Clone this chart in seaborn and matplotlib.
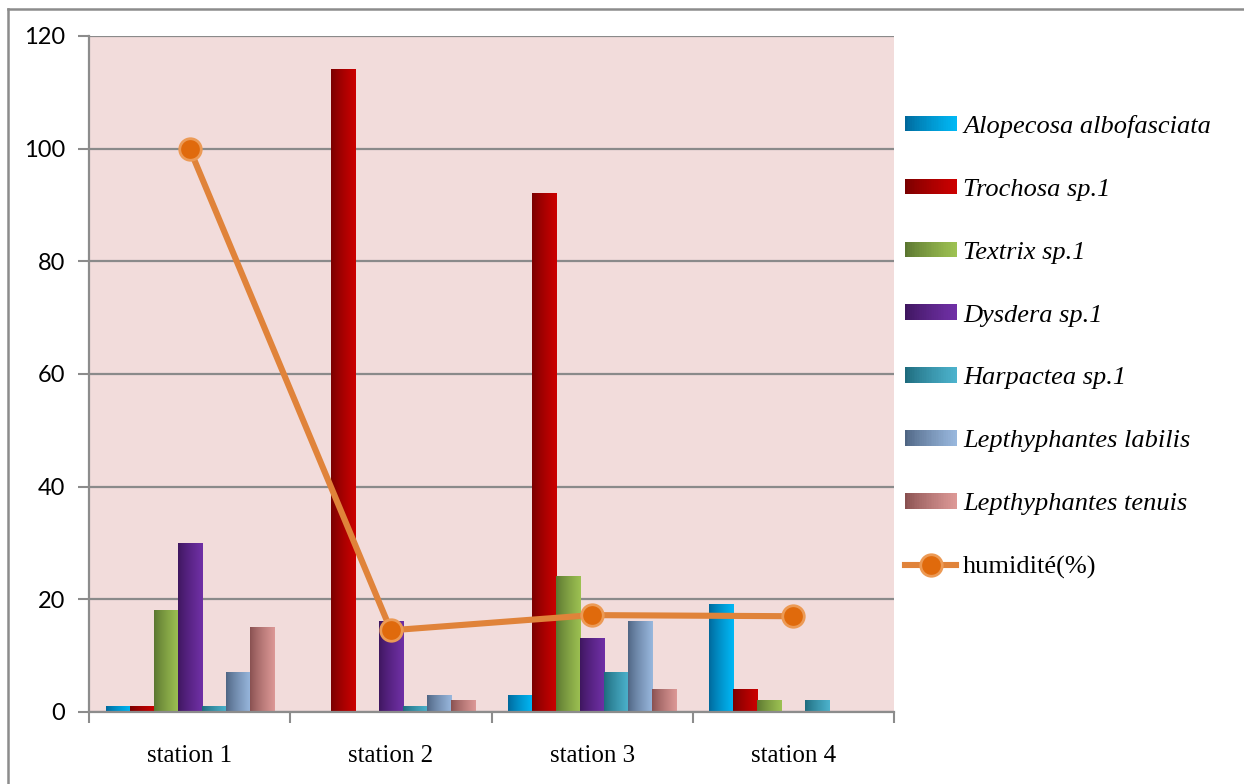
import numpy as np
import pandas as pd
import matplotlib
matplotlib.use("Agg")
import matplotlib.pyplot as plt
import seaborn as sns
from matplotlib.colors import LinearSegmentedColormap, to_rgb
from matplotlib.legend_handler import HandlerBase
from matplotlib.patches import Rectangle
from matplotlib.lines import Line2D

# ---- data -------------------------------------------------------------
stations = ["station 1", "station 2", "station 3", "station 4"]
species = ["Alopecosa albofasciata", "Trochosa sp.1", "Textrix sp.1",
           "Dysdera sp.1", "Harpactea sp.1", "Lepthyphantes labilis",
           "Lepthyphantes tenuis"]
alopecosa = [1, 0, 3, 19]
trochosa = [1, 114, 92, 4]
textrix = [18, 0, 24, 2]
dysdera = [30, 16, 13, 0]
harpactea = [1, 1, 7, 2]
lep_labilis = [7, 3, 16, 0]
lep_tenuis = [15, 2, 4, 0]
humidite = [100, 14.5, 17.2, 17]
y_ticks = [0, 20, 40, 60, 80, 100, 120]

counts = [alopecosa, trochosa, textrix, dysdera, harpactea, lep_labilis, lep_tenuis]
df = pd.DataFrame({
    "station": [s for _ in species for s in stations],
    "espece": [sp for sp in species for _ in stations],
    "effectif": [v for vals in counts for v in vals],
})

# dark -> light shading for each species
shades = [
    ("#00679A", "#00B8F5"),
    ("#780000", "#CC0000"),
    ("#5A7530", "#9DC152"),
    ("#3E165E", "#7030A6"),
    ("#1E6A7C", "#4CB2CC"),
    ("#4E6482", "#98B7DD"),
    ("#885050", "#DC9896"),
]
flat = [b for _, b in shades]

W, H, DPI = 1244, 784, 100
fig = plt.figure(figsize=(W / DPI, H / DPI), dpi=DPI)
ax = fig.add_axes([89 / W, 1 - 712 / H, (894 - 89) / W, (712 - 36) / H])
ax.set_facecolor("#F2DCDB")

sns.barplot(data=df, x="station", y="effectif", hue="espece",
            order=stations, hue_order=species, palette=flat,
            width=0.835, gap=0, ax=ax, legend=False, zorder=3)


def gradient_cmap(dark, light):
    d, l = np.array(to_rgb(dark)), np.array(to_rgb(light))
    t = np.linspace(0, 1, 64) ** 0.8
    return LinearSegmentedColormap.from_list("g", [d + (l - d) * v for v in t])


grad = np.linspace(0, 1, 64).reshape(1, -1)
for cont, (dark, light) in zip(ax.containers, shades):
    cmap = gradient_cmap(dark, light)
    for bar in cont:
        h = bar.get_height()
        if h <= 0:
            continue
        x0, w = bar.get_x(), bar.get_width()
        ax.imshow(grad, cmap=cmap, extent=(x0, x0 + w, 0, h),
                  aspect="auto", origin="lower", zorder=4,
                  interpolation="bilinear")

# humidity line
xs = np.arange(len(stations))
sns.lineplot(x=xs, y=humidite, ax=ax, color="#E0833A", linewidth=4.4,
             marker="o", markersize=15.5, markerfacecolor="#E06A0C",
             markeredgecolor="#EC9A55", markeredgewidth=2, zorder=6,
             sort=False)

ax.set_xlim(-0.5, len(stations) - 0.5)
ax.set_ylim(0, 120)
ax.set_yticks(y_ticks)
ax.set_xticks(xs)
ax.set_xticks(np.arange(-0.5, len(stations), 1.0), minor=True)
ax.set_xticklabels(stations, fontsize=18, family="Liberation Serif")
ax.set_yticklabels([str(v) for v in y_ticks], fontsize=17, family="Lato")
ax.tick_params(axis="x", which="major", length=0, pad=24)
ax.tick_params(axis="x", which="minor", length=8, width=1.5, color="#8C8C8C")
ax.tick_params(axis="y", length=8, width=1.5, color="#8C8C8C", pad=9)
ax.set_xlabel("")
ax.set_ylabel("")
ax.grid(axis="y", color="#8A8A8A", linewidth=1.6, zorder=1)
ax.set_axisbelow(True)
for side in ("top", "right"):
    ax.spines[side].set_visible(False)
for side in ("left", "bottom"):
    ax.spines[side].set_color("#8C8C8C")
    ax.spines[side].set_linewidth(1.6)
ax.spines["bottom"].set_zorder(7)


# legend with shaded swatches
class ShadeHandler(HandlerBase):
    def __init__(self, dark, light, n=30):
        super().__init__()
        self.dark, self.light, self.n = np.array(to_rgb(dark)), np.array(to_rgb(light)), n

    def create_artists(self, legend, orig_handle, xdescent, ydescent,
                       width, height, fontsize, trans):
        arts = []
        step = width / self.n
        for k in range(self.n):
            t = (k / (self.n - 1)) ** 0.8
            c = self.dark + (self.light - self.dark) * t
            arts.append(Rectangle((-xdescent + k * step, -ydescent),
                                  step * 1.05, height, facecolor=c,
                                  edgecolor="none", transform=trans))
        return arts


handles, hmap = [], {}
for dark, light in shades:
    r = Rectangle((0, 0), 1, 1)
    handles.append(r)
    hmap[r] = ShadeHandler(dark, light)
hum_handle = Line2D([], [], color="#E0833A", linewidth=4.4, marker="o",
                    markersize=15.5, markerfacecolor="#E06A0C",
                    markeredgecolor="#EC9A55", markeredgewidth=2)
handles.append(hum_handle)
labels = species + ["humidité(%)"]

leg = fig.legend(handles, labels, handler_map=hmap, loc="center left",
                 bbox_to_anchor=(905 / W, 1 - 347 / H), frameon=False,
                 prop={"family": "Liberation Serif", "size": 19},
                 labelspacing=1.55, handlelength=1.95, handleheight=0.52,
                 handletextpad=0.25, borderpad=0, borderaxespad=0)
for txt in leg.get_texts()[:-1]:
    txt.set_style("italic")

# outer chart frame
fig.add_artist(Line2D([8 / W, 8 / W], [0, 1 - 9 / H], color="#8C8C8C",
                      linewidth=1.8, transform=fig.transFigure))
fig.add_artist(Line2D([8 / W, 1], [1 - 9 / H, 1 - 9 / H], color="#8C8C8C",
                      linewidth=1.8, transform=fig.transFigure))

fig.savefig("out.png", dpi=DPI, facecolor="white")
